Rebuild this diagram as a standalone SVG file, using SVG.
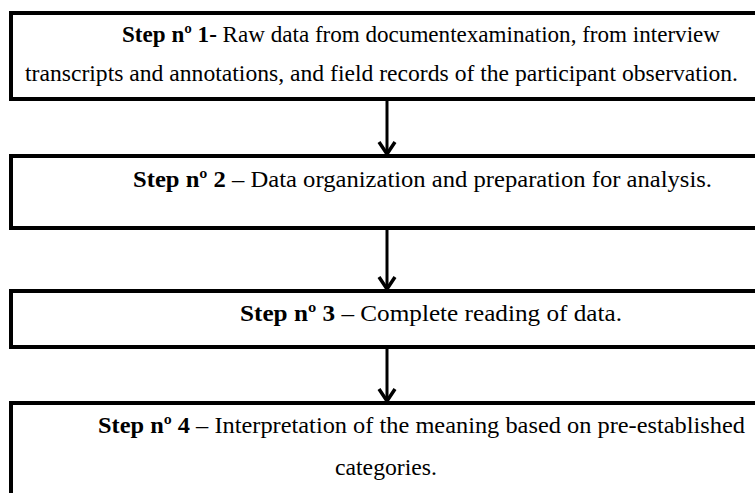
<svg xmlns="http://www.w3.org/2000/svg" width="755" height="493" viewBox="0 0 755 493">
<defs>
<style>
.box{fill:#fff;stroke:#000;stroke-width:4}
.t{font-family:"Liberation Serif","Times New Roman",serif;font-size:23px;fill:#000}
.b{font-weight:bold}
.con{stroke:#000;stroke-width:3;fill:none}
</style>
<marker id="arr" markerWidth="16" markerHeight="20" viewBox="0 0 16 20" refX="14" refY="10" orient="auto" markerUnits="userSpaceOnUse">
<path d="M2,2 L14,10 L2,18" fill="none" stroke="#000" stroke-width="3.5"/>
</marker>
</defs>
<rect width="755" height="493" fill="#fff"/>
<g id="step1">
<rect class="box" x="11" y="13" width="760" height="86"/>
<text class="t" x="122" y="42" textLength="598" lengthAdjust="spacingAndGlyphs"><tspan class="b">Step nº 1-</tspan> Raw data from documentexamination, from interview</text>
<text class="t" x="25" y="81" textLength="713" lengthAdjust="spacingAndGlyphs">transcripts and annotations, and field records of the participant observation.</text>
</g>
<g id="step2">
<rect class="box" x="11" y="156" width="760" height="72"/>
<text class="t" x="133" y="187" textLength="579" lengthAdjust="spacingAndGlyphs"><tspan class="b">Step nº 2</tspan> – Data organization and preparation for analysis.</text>
</g>
<g id="step3">
<rect class="box" x="11" y="291" width="760" height="56"/>
<text class="t" x="240" y="321" textLength="382" lengthAdjust="spacingAndGlyphs"><tspan class="b">Step nº 3</tspan> – Complete reading of data.</text>
</g>
<g id="step4">
<rect class="box" x="11" y="403" width="760" height="100"/>
<text class="t" x="98" y="433" textLength="647" lengthAdjust="spacingAndGlyphs"><tspan class="b">Step nº 4</tspan> – Interpretation of the meaning based on pre-established</text>
<text class="t" x="335" y="475" textLength="102" lengthAdjust="spacingAndGlyphs">categories.</text>
</g>
<g id="connectors">
<line class="con" x1="387" y1="101" x2="387" y2="154" marker-end="url(#arr)"/>
<line class="con" x1="387" y1="230" x2="387" y2="289" marker-end="url(#arr)"/>
<line class="con" x1="387" y1="349" x2="387" y2="401" marker-end="url(#arr)"/>
</g>
</svg>
